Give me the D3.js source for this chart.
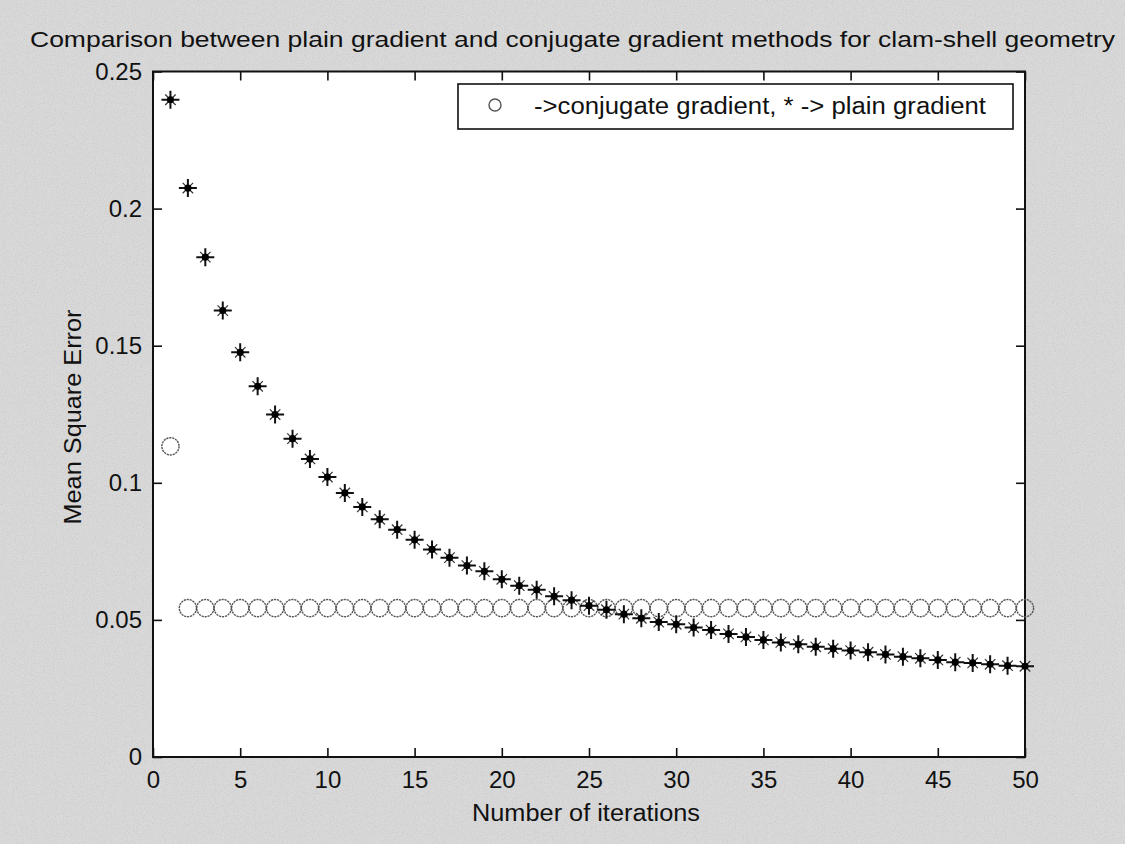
<!DOCTYPE html>
<html>
<head>
<meta charset="utf-8">
<script src="https://cdn.jsdelivr.net/npm/d3@7"></script>
<style>
  html, body { margin: 0; padding: 0; background: #d5d5d5; }
  svg { display: block; }
  text { font-family: "Liberation Sans", Arial, sans-serif; fill: #111; }
</style>
</head>
<body>
<svg id="chart" width="1125" height="844"></svg>
<script>
// Iteration numbers (x categories)
const iterations = [1,2,3,4,5,6,7,8,9,10,11,12,13,14,15,16,17,18,19,20,
  21,22,23,24,25,26,27,28,29,30,31,32,33,34,35,36,37,38,39,40,
  41,42,43,44,45,46,47,48,49,50];

// Mean square error, conjugate gradient method (circles)
const conjugateMSE = [0.1133,0.0543,0.0543,0.0543,0.0543,0.0543,0.0543,0.0543,0.0543,0.0543,
  0.0543,0.0543,0.0543,0.0543,0.0543,0.0543,0.0543,0.0543,0.0543,0.0543,
  0.0543,0.0543,0.0543,0.0543,0.0543,0.0543,0.0543,0.0543,0.0543,0.0543,
  0.0543,0.0543,0.0543,0.0543,0.0543,0.0543,0.0543,0.0543,0.0543,0.0543,
  0.0543,0.0543,0.0543,0.0543,0.0543,0.0543,0.0543,0.0543,0.0543,0.0543];

// Mean square error, plain gradient method (stars)
const plainMSE = [0.2397,0.2075,0.1823,0.1628,0.1476,0.1352,0.1249,0.1161,0.1087,0.1021,
  0.0963,0.0912,0.0867,0.0829,0.0792,0.0757,0.0727,0.0698,0.0677,0.0648,
  0.0625,0.0610,0.0586,0.0572,0.0552,0.0537,0.0521,0.0506,0.0492,0.0484,
  0.0472,0.0463,0.0449,0.0438,0.0427,0.0418,0.0411,0.0402,0.0395,0.0388,
  0.0382,0.0374,0.0366,0.0360,0.0354,0.0346,0.0343,0.0338,0.0333,0.0331];

const xTicks = [0,5,10,15,20,25,30,35,40,45,50];
const yTicks = [0,0.05,0.1,0.15,0.2,0.25];
const yTickLabels = ["0","0.05","0.1","0.15","0.2","0.25"];

const titleText = "Comparison between plain gradient and conjugate gradient methods for clam-shell geometry";
const xLabel = "Number of iterations";
const yLabel = "Mean Square Error";
const legendText = "->conjugate gradient, * -> plain gradient";

const svg = d3.select("#chart");
const W = 1125, H = 844;
const plot = { left: 153, right: 1025, top: 71.5, bottom: 757 };

// Grainy paper background
const defs = svg.append("defs");
const f = defs.append("filter").attr("id", "grain").attr("x", 0).attr("y", 0).attr("width", 1).attr("height", 1);
f.append("feTurbulence").attr("type", "fractalNoise").attr("baseFrequency", 0.9).attr("numOctaves", 2).attr("seed", 4);
f.append("feColorMatrix").attr("type", "matrix")
  .attr("values", "0 0 0 0 0.55  0 0 0 0 0.55  0 0 0 0 0.55  2.6 0 0 0 -1.15");
svg.append("rect").attr("width", W).attr("height", H).attr("fill", "#d9d9d9");
svg.append("rect").attr("width", W).attr("height", H).attr("filter", "url(#grain)").attr("opacity", 0.6);

const x = d3.scaleLinear().domain([0, 50]).range([plot.left, plot.right]);
const y = d3.scaleLinear().domain([0, 0.25]).range([plot.bottom, plot.top]);

// Plot area
svg.append("rect")
  .attr("x", plot.left).attr("y", plot.top)
  .attr("width", plot.right - plot.left).attr("height", plot.bottom - plot.top)
  .attr("fill", "#fff");

// Axes with inward ticks on all four sides
const styleAxis = g => {
  g.select(".domain").remove();
  g.selectAll(".tick line").attr("stroke", "#111").attr("stroke-width", 1.6);
  g.selectAll(".tick text").attr("font-size", 24).style("fill", "#111");
};
svg.append("g").attr("transform", `translate(0,${plot.bottom})`)
  .call(d3.axisBottom(x).tickValues(xTicks).tickSize(-9).tickPadding(12).tickFormat(d3.format("d")))
  .call(styleAxis)
  .call(g => g.selectAll(".tick text").attr("dy", "0.78em"));
svg.append("g").attr("transform", `translate(0,${plot.top})`)
  .call(d3.axisTop(x).tickValues(xTicks).tickSize(-9).tickFormat(""))
  .call(styleAxis);
svg.append("g").attr("transform", `translate(${plot.left},0)`)
  .call(d3.axisLeft(y).tickValues(yTicks).tickSize(-9).tickPadding(11).tickFormat((d, i) => yTickLabels[i]))
  .call(styleAxis);
svg.append("g").attr("transform", `translate(${plot.right},0)`)
  .call(d3.axisRight(y).tickValues(yTicks).tickSize(-9).tickFormat(""))
  .call(styleAxis);

// Frame
svg.append("rect")
  .attr("x", plot.left).attr("y", plot.top)
  .attr("width", plot.right - plot.left).attr("height", plot.bottom - plot.top)
  .attr("fill", "none").attr("stroke", "#111").attr("stroke-width", 2);

// Conjugate gradient: open circles
svg.append("g").selectAll("circle")
  .data(iterations.map((it, i) => [it, conjugateMSE[i]]))
  .join("circle")
  .attr("cx", d => x(d[0])).attr("cy", d => y(d[1]))
  .attr("r", 8.6)
  .attr("fill", "none").attr("stroke", "#555").attr("stroke-width", 1.4)
  .attr("stroke-dasharray", "2.2,0.8");

// Plain gradient: star markers (plus, short diagonal cross, centre dot)
const star = (g, s) => {
  g.append("path").attr("d", `M${-s},0H${s}M0,${-s}V${s}`)
    .attr("stroke", "#111").attr("stroke-width", 2);
  const d = s * 0.58;
  g.append("path").attr("d", `M${-d},${-d}L${d},${d}M${-d},${d}L${d},${-d}`)
    .attr("stroke", "#333").attr("stroke-width", 1.2);
  g.append("circle").attr("r", 3.6).attr("fill", "#000");
};
svg.append("g").selectAll("g")
  .data(iterations.map((it, i) => [it, plainMSE[i]]))
  .join("g")
  .attr("transform", d => `translate(${x(d[0])},${y(d[1])})`)
  .each(function () { star(d3.select(this), 9); });

// Legend
const lg = svg.append("g");
lg.append("rect").attr("x", 458).attr("y", 84).attr("width", 555).attr("height", 45)
  .attr("fill", "#fff").attr("stroke", "#111").attr("stroke-width", 1.6);
lg.append("circle").attr("cx", 495).attr("cy", 105).attr("r", 6)
  .attr("fill", "none").attr("stroke", "#555").attr("stroke-width", 1.4);
lg.append("text").attr("x", 534).attr("y", 114).attr("font-size", 23)
  .attr("textLength", 452).attr("lengthAdjust", "spacingAndGlyphs").text(legendText);

// Title and axis labels
svg.append("text").attr("x", 30).attr("y", 47).attr("font-size", 22)
  .attr("textLength", 1085).attr("lengthAdjust", "spacingAndGlyphs").text(titleText);
svg.append("text").attr("x", 586).attr("y", 821).attr("font-size", 23)
  .attr("text-anchor", "middle")
  .attr("textLength", 228).attr("lengthAdjust", "spacingAndGlyphs").text(xLabel);
svg.append("text").attr("transform", "translate(81,417) rotate(-90)").attr("font-size", 23)
  .attr("text-anchor", "middle")
  .attr("textLength", 215).attr("lengthAdjust", "spacingAndGlyphs").text(yLabel);
</script>
</body>
</html>
